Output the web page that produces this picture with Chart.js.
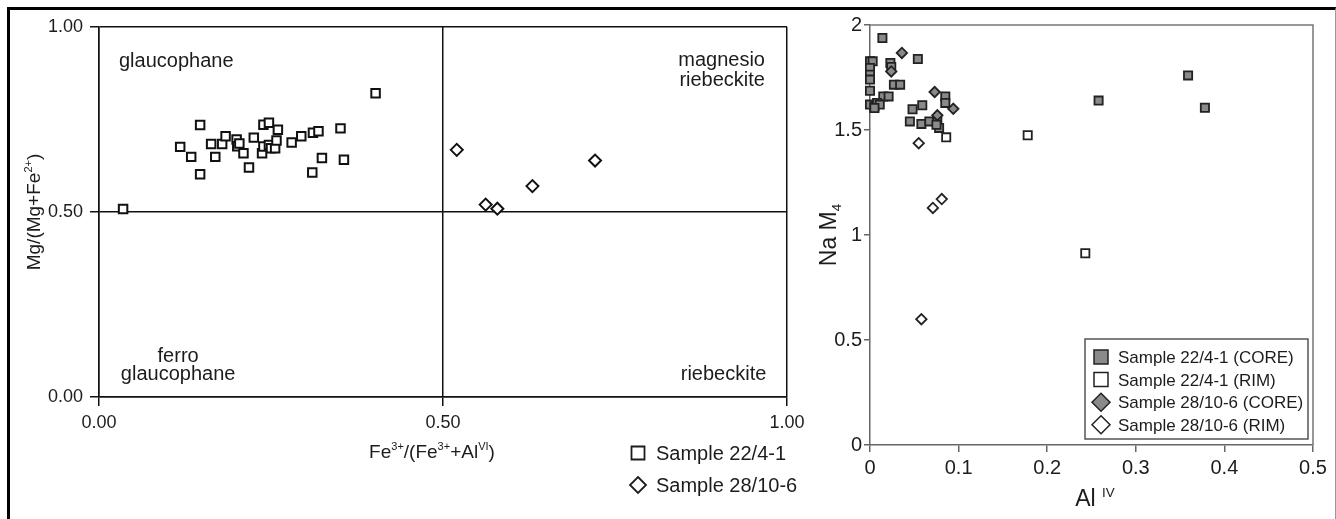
<!DOCTYPE html>
<html>
<head>
<meta charset="utf-8">
<script src="https://cdn.jsdelivr.net/npm/chart.js@4.4.1/dist/chart.umd.min.js"></script>
<style>
html, body { margin: 0; padding: 0; background: #fff; }
body { width: 1336px; height: 519px; position: relative; overflow: hidden; }
.frame { position: absolute; left: 7px; top: 7px; right: 0; bottom: -10px;
         border-top: 3px solid #000; border-left: 3px solid #000; border-right: 1px solid #999; }
#left { position: absolute; left: 0; top: 0; }
#right { position: absolute; left: 790px; top: 0; }
</style>
</head>
<body>
<div class="frame"></div>
<canvas id="left" width="820" height="519"></canvas>
<canvas id="right" width="546" height="519"></canvas>
<script>
// ---- left diagram: Fe3+/(Fe3++AlVI) vs Mg/(Mg+Fe2+)
const leftTickValues = [0, 0.5, 1];
const leftTickLabels = ['0.00', '0.50', '1.00'];

const leftX22 = [0.035, 0.118, 0.134, 0.147, 0.147, 0.163, 0.169, 0.179, 0.184, 0.200, 0.201,
                 0.204, 0.210, 0.218, 0.225, 0.237, 0.239, 0.239, 0.247, 0.247, 0.250, 0.256,
                 0.258, 0.260, 0.280, 0.294, 0.310, 0.311, 0.319, 0.324, 0.351, 0.356, 0.402];
const leftY22 = [0.508, 0.676, 0.649, 0.735, 0.602, 0.684, 0.649, 0.684, 0.705, 0.696, 0.678,
                 0.685, 0.659, 0.620, 0.701, 0.659, 0.677, 0.736, 0.741, 0.681, 0.672, 0.672,
                 0.693, 0.722, 0.688, 0.705, 0.607, 0.714, 0.718, 0.646, 0.726, 0.641, 0.821];
const leftX28 = [0.520, 0.562, 0.579, 0.630, 0.721];
const leftY28 = [0.668, 0.520, 0.509, 0.570, 0.639];

// field names: [text, x, y, align]
const fieldLabels = [
    ['glaucophane', 0.029, 0.911, 'left'],
    ['magnesio', 0.968, 0.914, 'right'],
    ['riebeckite', 0.968, 0.859, 'right'],
    ['ferro', 0.115, 0.114, 'center'],
    ['glaucophane', 0.115, 0.065, 'center'],
    ['riebeckite', 0.970, 0.065, 'right']
];

// ---- right diagram: Al IV vs Na M4
const rightXTickValues = [0, 0.1, 0.2, 0.3, 0.4, 0.5];
const rightXTickLabels = ['0', '0.1', '0.2', '0.3', '0.4', '0.5'];
const rightYTickValues = [0, 0.5, 1, 1.5, 2];
const rightYTickLabels = ['0', '0.5', '1', '1.5', '2'];

const coreX22 = [0.014, 0.054, 0.000, 0.003, 0.000, 0.000, 0.000, 0.023, 0.024, 0.027, 0.034,
                 0.000, 0.015, 0.021, 0.000, 0.005, 0.008, 0.011, 0.005, 0.048, 0.059, 0.045,
                 0.058, 0.067, 0.076, 0.078, 0.085, 0.085, 0.075, 0.258, 0.359, 0.378];
const coreY22 = [1.938, 1.838, 1.827, 1.827, 1.795, 1.763, 1.740, 1.819, 1.800, 1.716, 1.716,
                 1.687, 1.660, 1.660, 1.621, 1.613, 1.629, 1.621, 1.605, 1.599, 1.618, 1.541,
                 1.529, 1.541, 1.544, 1.510, 1.660, 1.629, 1.525, 1.640, 1.760, 1.606];
const rimX22 = [0.086, 0.178, 0.243];
const rimY22 = [1.465, 1.475, 0.913];
const coreX28 = [0.036, 0.024, 0.073, 0.094, 0.076];
const coreY28 = [1.867, 1.779, 1.681, 1.601, 1.570];
const rimX28 = [0.055, 0.071, 0.081, 0.058];
const rimY28 = [1.437, 1.129, 1.171, 0.599];

const FONT = "'Liberation Sans', Arial, sans-serif";
const INK = '#1c1c1c';
const GREY_FILL = '#8a8a8a';

Chart.defaults.font.family = FONT;
Chart.defaults.color = INK;

function pts(xs, ys) {
    return xs.map((x, i) => ({ x: x, y: ys[i] }));
}

function fixedTicks(values) {
    return (scale) => { scale.ticks = values.map(v => ({ value: v })); };
}

function labelFor(values, labels) {
    return (v) => {
        const i = values.findIndex(t => Math.abs(t - v) < 1e-9);
        return i < 0 ? '' : labels[i];
    };
}

// text with superscript / subscript pieces, parts = [[text, ''|'sup'|'sub'], ...]
function richWidth(ctx, parts, size) {
    let w = 0;
    parts.forEach(([t, k]) => {
        ctx.font = (k ? size * 0.58 : size) + 'px ' + FONT;
        w += ctx.measureText(t).width;
    });
    return w;
}

function drawRich(ctx, parts, x, y, size, align) {
    const w = richWidth(ctx, parts, size);
    let cx = align === 'center' ? x - w / 2 : (align === 'right' ? x - w : x);
    const base = y + size * 0.36;
    ctx.textAlign = 'left';
    ctx.textBaseline = 'alphabetic';
    parts.forEach(([t, k]) => {
        const s = k ? size * 0.58 : size;
        ctx.font = s + 'px ' + FONT;
        const dy = k === 'sup' ? -size * 0.42 : (k === 'sub' ? size * 0.2 : 0);
        ctx.fillText(t, cx, base + dy);
        cx += ctx.measureText(t).width;
    });
}

function drawMarker(ctx, style, x, y, r, fill, stroke, lw) {
    ctx.beginPath();
    if (style === 'rect') {
        ctx.rect(x - r, y - r, 2 * r, 2 * r);
    } else {
        ctx.moveTo(x, y - r); ctx.lineTo(x + r, y); ctx.lineTo(x, y + r); ctx.lineTo(x - r, y);
        ctx.closePath();
    }
    ctx.fillStyle = fill; ctx.fill();
    ctx.lineWidth = lw; ctx.strokeStyle = stroke; ctx.stroke();
}

const leftDecor = {
    id: 'leftDecor',
    afterDraw(chart) {
        const ctx = chart.ctx;
        const xs = chart.scales.x, ys = chart.scales.y;
        const area = chart.chartArea;
        ctx.save();
        ctx.fillStyle = INK;
        fieldLabels.forEach(([t, x, y, a]) => {
            drawRich(ctx, [[t, '']], xs.getPixelForValue(x), ys.getPixelForValue(y), 20, a);
        });
        // axis titles
        drawRich(ctx, [['Fe', ''], ['3+', 'sup'], ['/(Fe', ''], ['3+', 'sup'], ['+Al', ''], ['VI', 'sup'], [')', '']],
                 432, area.bottom + 54, 19, 'center');
        ctx.save();
        ctx.translate(33, (area.top + area.bottom) / 2);
        ctx.rotate(-Math.PI / 2);
        drawRich(ctx, [['Mg/(Mg+Fe', ''], ['2+', 'sup'], [')', '']], 0, 0, 19, 'center');
        ctx.restore();
        // legend below the plot
        chart.data.datasets.forEach((ds, i) => {
            const y = area.bottom + 56 + i * 32;
            drawMarker(ctx, ds.pointStyle, 638, y, ds.pointStyle === 'rect' ? 6.5 : 8, '#fff', INK, 1.8);
            ctx.fillStyle = INK;
            drawRich(ctx, [[ds.label, '']], 656, y, 20, 'left');
        });
        ctx.restore();
    }
};

new Chart(document.getElementById('left'), {
    type: 'scatter',
    data: {
        datasets: [
            { label: 'Sample 22/4-1', data: pts(leftX22, leftY22), pointStyle: 'rect', pointRadius: 6,
              backgroundColor: '#fff', borderColor: '#111', borderWidth: 2, order: 1, clip: false },
            { label: 'Sample 28/10-6', data: pts(leftX28, leftY28), pointStyle: 'rectRot', pointRadius: 6,
              backgroundColor: '#fff', borderColor: '#111', borderWidth: 2, order: 0, clip: false }
        ]
    },
    options: {
        responsive: false, animation: false, devicePixelRatio: 1, events: [],
        layout: { padding: { left: 0, top: 27, right: 33, bottom: 0 } },
        plugins: { legend: { display: false }, tooltip: { enabled: false } },
        scales: {
            x: {
                type: 'linear', min: 0, max: 1,
                afterBuildTicks: fixedTicks(leftTickValues),
                afterFit: (s) => { s.height = 122; },
                ticks: { callback: labelFor(leftTickValues, leftTickLabels), font: { size: 18 }, padding: 6, color: INK, maxRotation: 0 },
                grid: { color: '#111', lineWidth: 1.5, tickLength: 9, drawOnChartArea: true },
                border: { color: '#111', width: 1.5 }
            },
            y: {
                type: 'linear', min: 0, max: 1,
                afterBuildTicks: fixedTicks(leftTickValues),
                afterFit: (s) => { s.width = 99; },
                ticks: { callback: labelFor(leftTickValues, leftTickLabels), font: { size: 18 }, padding: 7, color: INK },
                grid: { color: '#111', lineWidth: 1.5, tickLength: 9, drawOnChartArea: true },
                border: { color: '#111', width: 1.5 }
            }
        }
    },
    plugins: [leftDecor]
});

const rightDecor = {
    id: 'rightDecor',
    beforeDatasetsDraw(chart) {
        const ctx = chart.ctx, a = chart.chartArea;
        ctx.save();
        ctx.strokeStyle = '#777';
        ctx.lineWidth = 1.5;
        ctx.beginPath();
        ctx.moveTo(a.left, a.top); ctx.lineTo(a.right, a.top); ctx.lineTo(a.right, a.bottom);
        ctx.stroke();
        ctx.restore();
    },
    afterDraw(chart) {
        const ctx = chart.ctx, a = chart.chartArea;
        ctx.save();
        ctx.fillStyle = INK;
        drawRich(ctx, [['Al', ''], [' ', ''], ['IV', 'sup']], 305, 498, 23, 'center');
        ctx.save();
        ctx.translate(38, (a.top + a.bottom) / 2);
        ctx.rotate(-Math.PI / 2);
        drawRich(ctx, [['Na M', ''], ['4', 'sub']], 0, 0, 23, 'center');
        ctx.restore();
        // legend box inside the plot
        const bw = 223, bh = 100;
        const bx = a.right - 5 - bw, by = a.bottom - 6 - bh;
        ctx.fillStyle = '#fff';
        ctx.fillRect(bx, by, bw, bh);
        ctx.strokeStyle = '#555';
        ctx.lineWidth = 1.5;
        ctx.strokeRect(bx, by, bw, bh);
        chart.data.datasets.forEach((ds, i) => {
            const y = by + 18 + i * 22.6;
            drawMarker(ctx, ds.pointStyle, bx + 16, y, ds.pointStyle === 'rect' ? 7 : 9,
                       ds.backgroundColor, '#222', 1.5);
            ctx.fillStyle = INK;
            drawRich(ctx, [[ds.label, '']], bx + 33, y, 17, 'left');
        });
        ctx.restore();
    }
};

new Chart(document.getElementById('right'), {
    type: 'scatter',
    data: {
        datasets: [
            { label: 'Sample 22/4-1 (CORE)', data: pts(coreX22, coreY22), pointStyle: 'rect', pointRadius: 5.8,
              backgroundColor: GREY_FILL, borderColor: '#222', borderWidth: 1.8, order: 3, clip: false },
            { label: 'Sample 22/4-1 (RIM)', data: pts(rimX22, rimY22), pointStyle: 'rect', pointRadius: 5.8,
              backgroundColor: '#fff', borderColor: '#222', borderWidth: 1.8, order: 2, clip: false },
            { label: 'Sample 28/10-6 (CORE)', data: pts(coreX28, coreY28), pointStyle: 'rectRot', pointRadius: 5.2,
              backgroundColor: GREY_FILL, borderColor: '#222', borderWidth: 1.8, order: 1, clip: false },
            { label: 'Sample 28/10-6 (RIM)', data: pts(rimX28, rimY28), pointStyle: 'rectRot', pointRadius: 5.2,
              backgroundColor: '#fff', borderColor: '#222', borderWidth: 1.8, order: 0, clip: false }
        ]
    },
    options: {
        responsive: false, animation: false, devicePixelRatio: 1, events: [],
        layout: { padding: { left: 0, top: 25, right: 23, bottom: 0 } },
        plugins: { legend: { display: false }, tooltip: { enabled: false } },
        scales: {
            x: {
                type: 'linear', min: 0, max: 0.5,
                afterBuildTicks: fixedTicks(rightXTickValues),
                afterFit: (s) => { s.height = 74; },
                ticks: { callback: labelFor(rightXTickValues, rightXTickLabels), font: { size: 20 }, padding: 4, color: INK, maxRotation: 0 },
                grid: { color: '#666', lineWidth: 1.5, tickLength: 7, drawOnChartArea: false },
                border: { color: '#666', width: 1.5 }
            },
            y: {
                type: 'linear', min: 0, max: 2,
                afterBuildTicks: fixedTicks(rightYTickValues),
                afterFit: (s) => { s.width = 80; },
                ticks: { callback: labelFor(rightYTickValues, rightYTickLabels), font: { size: 20 }, padding: 2, color: INK },
                grid: { color: '#666', lineWidth: 1.5, tickLength: 6, drawOnChartArea: false },
                border: { color: '#666', width: 1.5 }
            }
        }
    },
    plugins: [rightDecor]
});
</script>
</body>
</html>
